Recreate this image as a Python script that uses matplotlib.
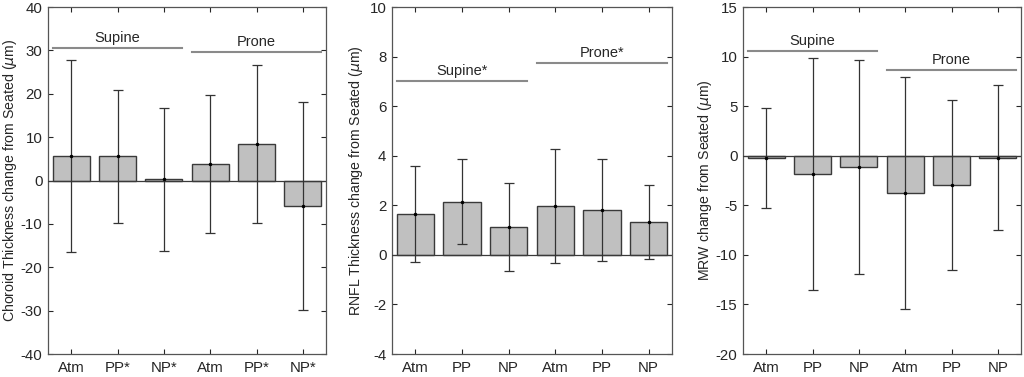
import matplotlib
matplotlib.use("Agg")
import matplotlib.pyplot as plt
import numpy as np

plt.rcParams["font.family"] = ["Liberation Sans", "DejaVu Sans"]
plt.rcParams["mathtext.fontset"] = "dejavusans"
plt.rcParams["axes.unicode_minus"] = False

# Choroid thickness change from seated (um)
choroid_labels = ["Atm", "PP*", "NP*", "Atm", "PP*", "NP*"]
choroid_mean = [5.6, 5.6, 0.3, 3.8, 8.5, -5.9]
choroid_sd = [22.1, 15.3, 16.5, 15.8, 18.2, 24.0]

# RNFL thickness change from seated (um)
rnfl_labels = ["Atm", "PP", "NP", "Atm", "PP", "NP"]
rnfl_mean = [1.66, 2.15, 1.11, 1.99, 1.80, 1.32]
rnfl_sd = [1.93, 1.71, 1.77, 2.30, 2.05, 1.49]

# MRW change from seated (um)
mrw_labels = ["Atm", "PP", "NP", "Atm", "PP", "NP"]
mrw_mean = [-0.2, -1.8, -1.1, -3.75, -2.97, -0.2]
mrw_sd = [5.05, 11.7, 10.8, 11.68, 8.6, 7.3]

# group bracket heights (data units) and names
choroid_groups = [("Supine", 30.5), ("Prone", 29.6)]
rnfl_groups = [("Supine*", 7.02), ("Prone*", 7.75)]
mrw_groups = [("Supine", 10.6), ("Prone", 8.6)]

panels = [
    (choroid_labels, choroid_mean, choroid_sd, choroid_groups,
     "Choroid Thickness change from Seated ($\\mu$m)", (-40, 40), np.arange(-40, 41, 10),
     [0.0469, 0.061, 0.2715, 0.9204], -0.103),
    (rnfl_labels, rnfl_mean, rnfl_sd, rnfl_groups,
     "RNFL Thickness change from Seated ($\\mu$m)", (-4, 10), np.arange(-4, 11, 2),
     [0.3828, 0.061, 0.2734, 0.9204], -0.095),
    (mrw_labels, mrw_mean, mrw_sd, mrw_groups,
     "MRW change from Seated ($\\mu$m)", (-20, 15), np.arange(-20, 16, 5),
     [0.7256, 0.061, 0.2715, 0.9204], -0.105),
]

fig = plt.figure(figsize=(10.24, 3.77), dpi=100)
text_color = "#262626"

for labels, mean, sd, groups, ylabel, ylim, yticks, pos, label_x in panels:
    ax = fig.add_axes(pos)
    x = np.arange(1, len(mean) + 1)
    ax.bar(x, mean, width=0.8, color="#c0c0c0", edgecolor="#3a3a3a", linewidth=1.0, zorder=2)
    ax.axhline(0, color="#3a3a3a", linewidth=0.9, zorder=3)
    ax.errorbar(x, mean, yerr=sd, fmt=".", color="black", markersize=3,
                ecolor="#333333", elinewidth=0.9, capsize=3.5, capthick=0.9, zorder=4)

    ax.set_xlim(0.5, 6.5)
    ax.set_ylim(*ylim)
    ax.set_xticks(x)
    ax.set_xticklabels(labels)
    ax.set_yticks(yticks)
    ax.set_ylabel(ylabel, fontsize=10.2, color=text_color)
    ax.yaxis.set_label_coords(label_x, 0.5)

    span = ylim[1] - ylim[0]
    for (name, ypos), (x0, x1) in zip(groups, [(0.6, 3.4), (3.6, 6.4)]):
        ax.plot([x0, x1], [ypos, ypos], color="#8a8a8a", linewidth=1.5, zorder=3)
        ax.text((x0 + x1) / 2, ypos + span * 0.029, name, ha="center", va="center",
                fontsize=10.5, color=text_color)

    ax.tick_params(direction="in", top=True, right=True, length=3.5, width=0.8,
                   labelsize=10.8, colors=text_color, pad=4)
    ax.tick_params(axis="x", pad=5)
    for spine in ax.spines.values():
        spine.set_color("#555555")
        spine.set_linewidth(0.9)

fig.savefig("out.png", dpi=100)
